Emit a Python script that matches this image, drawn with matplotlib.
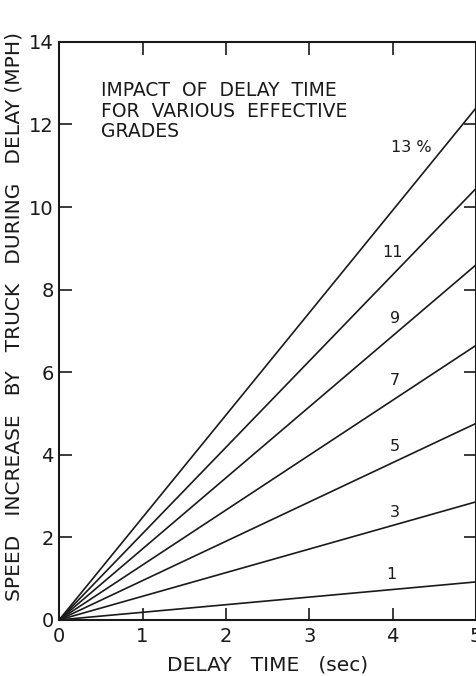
import numpy as np
import matplotlib.pyplot as plt

# effective grade (%) and speed increase reached at 5 sec delay (mph)
grades = ['1', '3', '5', '7', '9', '11', '13 %']
end_speed = [0.92, 2.86, 4.76, 6.65, 8.6, 10.45, 12.4]
delay_end = 5.0

# where the grade labels sit (delay, speed)
label_x = [3.98, 4.03, 4.03, 4.03, 4.03, 4.0, 4.22]
label_y = [1.1, 2.6, 4.2, 5.8, 7.3, 8.9, 11.45]

x_ticks = [0, 1, 2, 3, 4, 5]
y_ticks = [0, 2, 4, 6, 8, 10, 12, 14]


def draw():
    fig = plt.figure(figsize=(4.77, 6.76), dpi=100)
    ax = fig.add_axes([0.124, 0.083, 0.874, 0.855])

    for g, v, lx, ly in zip(grades, end_speed, label_x, label_y):
        ax.plot([0, delay_end], [0, v], color='#1a1a1a', lw=1.2,
                solid_capstyle='butt')
        ax.text(lx, ly, g, fontsize=11.5, ha='center', va='center',
                color='#1a1a1a')

    ax.set_xlim(0, 5)
    ax.set_ylim(0, 14)
    ax.set_xticks(x_ticks)
    ax.set_yticks(y_ticks)
    ax.set_xticklabels([str(t) for t in x_ticks])
    ax.set_yticklabels([str(t) for t in y_ticks])

    ax.tick_params(axis='both', which='both', direction='in', length=9,
                   width=1.2, colors='#1a1a1a', labelsize=14,
                   top=True, right=True, labeltop=False, labelright=False)
    ax.tick_params(axis='x', pad=5)
    ax.tick_params(axis='y', pad=4)
    for sp in ax.spines.values():
        sp.set_linewidth(1.5)
        sp.set_color('#1a1a1a')

    ax.set_xlabel('DELAY   TIME   (sec)', fontsize=14.5, color='#1a1a1a',
                  labelpad=7)
    ax.set_ylabel('SPEED   INCREASE   BY   TRUCK   DURING   DELAY (MPH)',
                  fontsize=14.5, color='#1a1a1a')
    ax.yaxis.set_label_coords(-0.085, 0.525)

    ax.text(0.5, 13.05, 'IMPACT  OF  DELAY  TIME\nFOR  VARIOUS  EFFECTIVE\nGRADES',
            fontsize=13.5, ha='left', va='top', color='#1a1a1a',
            linespacing=1.1)

    fig.savefig('out.png', dpi=100)


if __name__ == '__main__':
    draw()
